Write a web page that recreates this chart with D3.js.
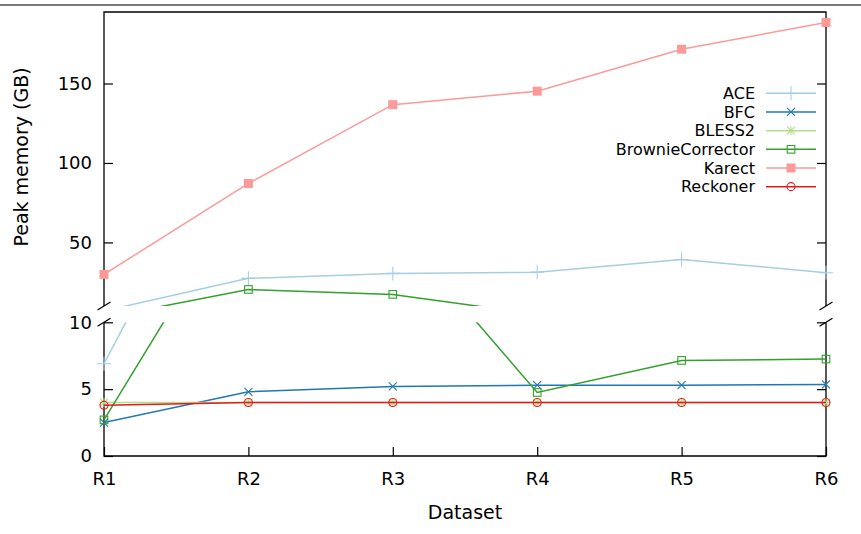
<!DOCTYPE html>
<html>
<head>
<meta charset="utf-8">
<script src="https://cdn.jsdelivr.net/npm/d3@7/dist/d3.min.js"></script>
<style>
  html, body { margin: 0; padding: 0; background: #fff; }
  svg { display: block; font-family: "DejaVu Sans", sans-serif; }
</style>
</head>
<body>
<svg id="chart" width="861" height="534"></svg>
<script>
// Datasets on the x axis
const categories = ["R1", "R2", "R3", "R4", "R5", "R6"];

// Peak memory (GB) per tool
const ace      = [6.9, 27.4, 30.5, 31.3, 39.3, 30.9];
const bfc      = [2.5, 4.8, 5.2, 5.3, 5.3, 5.35];
const bless2   = [4.0, 4.0, 4.0, 4.0, 4.0, 4.0];
const brownie  = [2.7, 20.4, 17.3, 4.75, 7.15, 7.25];
const karect   = [29.9, 87.1, 136.7, 145.2, 171.6, 188.4];
const reckoner = [3.8, 4.0, 4.0, 4.0, 4.0, 4.0];

// Tick values for the two halves of the broken y axis
const upperTicks = [50, 100, 150];
const lowerTicks = [0, 5, 10];
const upperDomain = [10, 195];
const lowerDomain = [0, 10];

const seriesNames = ["ACE", "BFC", "BLESS2", "BrownieCorrector", "Karect", "Reckoner"];
const seriesValues = [ace, bfc, bless2, brownie, karect, reckoner];
const seriesColors = ["#a6cee3", "#1f78b4", "#b2df8a", "#33a02c", "#fb9a99", "#e31a1c"];
const seriesMarkers = ["plus", "cross", "star", "square", "filledSquare", "circle"];

const series = seriesNames.map((name, i) => ({
  name, values: seriesValues[i], color: seriesColors[i], marker: seriesMarkers[i]
}));

const svg = d3.select("#chart");
const W = 861, H = 534;
const left = 104, right = 826;
const upperTop = 12, upperBottom = 306;
const lowerTop = 322.3, lowerBottom = 456;

svg.append("rect").attr("width", W).attr("height", H).attr("fill", "#fff");
// thin grey rule across the top edge
svg.append("line").attr("x1", 0).attr("x2", W).attr("y1", 5).attr("y2", 5)
  .attr("stroke", "#7a7a7a").attr("stroke-width", 2);

const x = d3.scalePoint().domain(categories).range([left, right]);
const yUp = d3.scaleLinear().domain(upperDomain).range([upperBottom, upperTop]);
const yLo = d3.scaleLinear().domain(lowerDomain).range([lowerBottom, lowerTop]);

const defs = svg.append("defs");
defs.append("clipPath").attr("id", "clipUp").append("rect")
  .attr("x", left).attr("y", upperTop).attr("width", right - left).attr("height", upperBottom - upperTop);
defs.append("clipPath").attr("id", "clipLo").append("rect")
  .attr("x", left).attr("y", lowerTop).attr("width", right - left).attr("height", lowerBottom - lowerTop);

const tickFont = 18;

// Left axes (ticks point inward)
function styleAxis(g) {
  g.select(".domain").remove();
  g.selectAll(".tick line").attr("stroke", "#000").attr("stroke-width", 1.2);
  g.selectAll(".tick text").attr("font-size", tickFont).attr("font-family", "DejaVu Sans").attr("fill", "#000");
}
svg.append("g").attr("transform", `translate(${left},0)`)
  .call(d3.axisLeft(yUp).tickValues(upperTicks).tickSizeInner(-9).tickSizeOuter(0).tickPadding(12))
  .call(styleAxis);
svg.append("g").attr("transform", `translate(${left},0)`)
  .call(d3.axisLeft(yLo).tickValues(lowerTicks).tickSizeInner(-9).tickSizeOuter(0).tickPadding(12))
  .call(styleAxis);
// Mirrored ticks on the right
svg.append("g").attr("transform", `translate(${right},0)`)
  .call(d3.axisRight(yUp).tickValues(upperTicks).tickSizeInner(-9).tickSizeOuter(0).tickFormat(""))
  .call(styleAxis);
svg.append("g").attr("transform", `translate(${right},0)`)
  .call(d3.axisRight(yLo).tickValues(lowerTicks).tickSizeInner(-9).tickSizeOuter(0).tickFormat(""))
  .call(styleAxis);
// Bottom axis
svg.append("g").attr("transform", `translate(0,${lowerBottom})`)
  .call(d3.axisBottom(x).tickSizeInner(-9).tickSizeOuter(0).tickPadding(16))
  .call(styleAxis);

// Frames of both panels
const frame = svg.append("g").attr("fill", "none").attr("stroke", "#000").attr("stroke-width", 1.3);
frame.append("path").attr("d", `M${left},${upperBottom}V${upperTop}H${right}V${upperBottom}`);
frame.append("path").attr("d", `M${left},${lowerTop}V${lowerBottom}H${right}V${lowerTop}`);

// Break marks on both sides
[left, right].forEach(bx => {
  [upperBottom, lowerTop].forEach(by => {
    frame.append("line")
      .attr("x1", bx - 6.5).attr("y1", by + 4)
      .attr("x2", bx + 6.5).attr("y2", by - 4);
  });
});

// Marker drawing
function drawMarker(g, type, cx, cy, color) {
  const s = g.append("g").attr("transform", `translate(${cx},${cy})`)
    .attr("stroke", color).attr("stroke-width", 1.1).attr("fill", "none");
  if (type === "plus") {
    s.append("path").attr("d", "M-7,0H7M0,-7V7");
  } else if (type === "cross") {
    s.append("path").attr("d", "M-4,-4L4,4M-4,4L4,-4");
  } else if (type === "star") {
    s.append("path").attr("d", "M-4,-4L4,4M-4,4L4,-4M-4.5,0H4.5M0,-4.5V4.5");
  } else if (type === "square") {
    s.append("rect").attr("x", -3.8).attr("y", -3.8).attr("width", 7.6).attr("height", 7.6);
  } else if (type === "filledSquare") {
    s.append("rect").attr("x", -4.5).attr("y", -4.5).attr("width", 9).attr("height", 9)
      .attr("fill", color).attr("stroke", "none");
  } else if (type === "circle") {
    s.append("circle").attr("r", 4);
  }
}

// Series lines and points in each panel
const panels = [
  { y: yUp, clip: "url(#clipUp)", domain: upperDomain },
  { y: yLo, clip: "url(#clipLo)", domain: lowerDomain }
];
series.forEach(s => {
  panels.forEach(p => {
    const line = d3.line().x((d, i) => x(categories[i])).y(d => p.y(d));
    svg.append("path").datum(s.values)
      .attr("clip-path", p.clip)
      .attr("d", line)
      .attr("fill", "none").attr("stroke", s.color).attr("stroke-width", 1.5);
    const pts = svg.append("g");
    s.values.forEach((v, i) => {
      if (v >= p.domain[0] && v <= p.domain[1]) {
        drawMarker(pts, s.marker, x(categories[i]), p.y(v), s.color);
      }
    });
  });
});

// Legend
const legendTextX = 755, sampleX1 = 766, sampleX2 = 816, legendY0 = 93.3, legendDy = 18.67;
const legend = svg.append("g");
series.forEach((s, i) => {
  const ly = legendY0 + i * legendDy;
  legend.append("text").attr("x", legendTextX).attr("y", ly).attr("dy", "0.36em")
    .attr("text-anchor", "end").attr("font-size", 16).attr("fill", "#000").text(s.name);
  legend.append("line").attr("x1", sampleX1).attr("x2", sampleX2).attr("y1", ly).attr("y2", ly)
    .attr("stroke", s.color).attr("stroke-width", 1.5);
  drawMarker(legend, s.marker, (sampleX1 + sampleX2) / 2, ly, s.color);
});

// Axis titles
svg.append("text").attr("x", (left + right) / 2).attr("y", 519)
  .attr("text-anchor", "middle").attr("font-size", 19).attr("fill", "#000").text("Dataset");
svg.append("text").attr("transform", "translate(28,157) rotate(-90)")
  .attr("text-anchor", "middle").attr("font-size", 19).attr("fill", "#000").text("Peak memory (GB)");
</script>
</body>
</html>
